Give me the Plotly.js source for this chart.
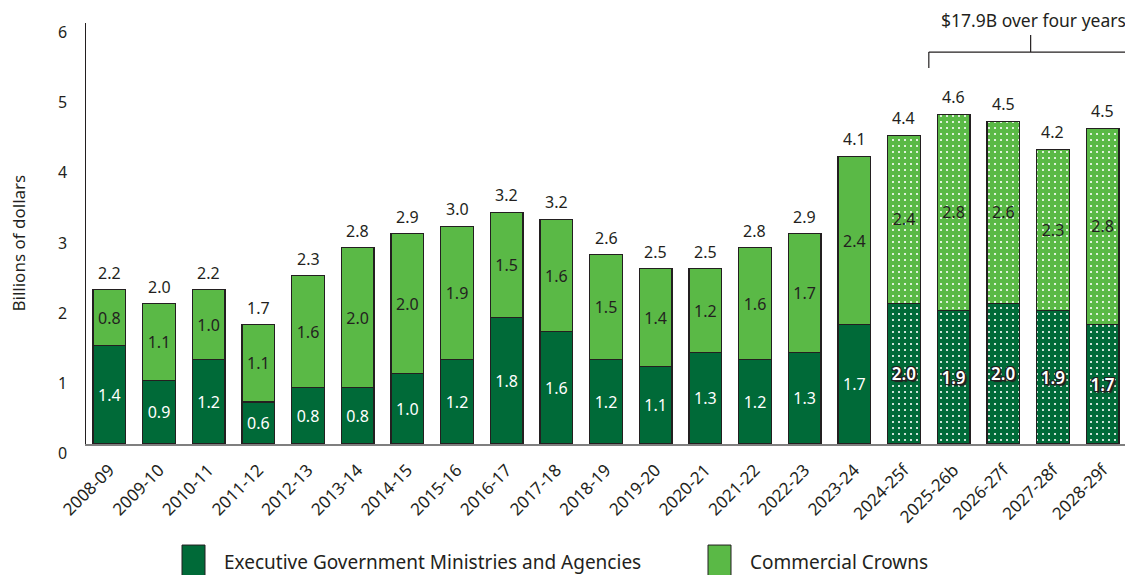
<!DOCTYPE html>
<html>
<head>
<meta charset="utf-8">
<script src="https://cdn.plot.ly/plotly-3.0.1.min.js"></script>
<style>html,body{margin:0;padding:0;background:#fff;}#chart{width:1125px;height:575px;}</style>
</head>
<body>
<div id="chart"></div>
<script>
// ---- data ----
var categories = ['2008-09','2009-10','2010-11','2011-12','2012-13','2013-14','2014-15','2015-16','2016-17','2017-18','2018-19','2019-20','2020-21','2021-22','2022-23','2023-24','2024-25f','2025-26b','2026-27f','2027-28f','2028-29f'];
var executiveGov = [1.4,0.9,1.2,0.6,0.8,0.8,1.0,1.2,1.8,1.6,1.2,1.1,1.3,1.2,1.3,1.7,2.0,1.9,2.0,1.9,1.7];
var commercialCrowns = [0.8,1.1,1.0,1.1,1.6,2.0,2.0,1.9,1.5,1.6,1.5,1.4,1.2,1.6,1.7,2.4,2.4,2.8,2.6,2.3,2.8];
var totalLabels = [2.2,2.0,2.2,1.7,2.3,2.8,2.9,3.0,3.2,3.2,2.6,2.5,2.5,2.8,2.9,4.1,4.4,4.6,4.5,4.2,4.5];
var seriesNames = ['Executive Government Ministries and Agencies','Commercial Crowns'];
var yTickValues = [0,1,2,3,4,5,6];
var yTitle = 'Billions of dollars';
var bracketText = '$17.9B over four years';
var forecastStart = 16; // index of first forecast year

// ---- styles ----
var DARK = '#006a38', LIGHT = '#5ab946', INK = '#231f20';
var FONT = 'Noto Sans, Open Sans, sans-serif';

var histIdx = [], fcIdx = [];
categories.forEach(function(c,i){ (i < forecastStart ? histIdx : fcIdx).push(i); });
function pick(arr, idx){ return idx.map(function(i){ return arr[i]; }); }

var lineStyle = {color: INK, width: 1.2};
var shadow = '-1px -1px 0 ' + INK + ', 1px -1px 0 ' + INK + ', -1px 1px 0 ' + INK + ', 1px 1px 0 ' + INK + ', 0 1px 0 ' + INK + ', 0 -1px 0 ' + INK + ', 1px 0 0 ' + INK + ', -1px 0 0 ' + INK + ', 2px 2px 1px ' + INK;

function dotPattern(bg){
  return {shape: '.', fgcolor: '#ffffff', bgcolor: bg, size: 6, solidity: 0.1, fillmode: 'replace'};
}

var common = {
  type: 'bar', texttemplate: '%{y:.1f}', textposition: 'inside', insidetextanchor: 'middle',
  textangle: 0, constraintext: 'none', hoverinfo: 'skip', showlegend: false
};

var traces = [
  Object.assign({}, common, {
    x: pick(categories, histIdx), y: pick(executiveGov, histIdx), name: seriesNames[0],
    marker: {color: DARK, line: lineStyle},
    textfont: {family: FONT, size: 16, color: '#ffffff'}
  }),
  Object.assign({}, common, {
    x: pick(categories, fcIdx), y: pick(executiveGov, fcIdx), name: seriesNames[0],
    marker: {color: DARK, line: lineStyle, pattern: dotPattern(DARK)},
    textfont: {family: FONT, size: 17, color: '#ffffff', weight: 600, shadow: shadow}
  }),
  Object.assign({}, common, {
    x: pick(categories, histIdx), y: pick(commercialCrowns, histIdx), name: seriesNames[1],
    marker: {color: LIGHT, line: lineStyle},
    textfont: {family: FONT, size: 16, color: INK}
  }),
  Object.assign({}, common, {
    x: pick(categories, fcIdx), y: pick(commercialCrowns, fcIdx), name: seriesNames[1],
    marker: {color: LIGHT, line: lineStyle, pattern: dotPattern(LIGHT)},
    textfont: {family: FONT, size: 16, color: INK}
  })
];

var annotations = [];
// totals above bars
categories.forEach(function(c,i){
  annotations.push({
    x: c, y: executiveGov[i] + commercialCrowns[i], xref: 'x', yref: 'y',
    text: totalLabels[i].toFixed(1), showarrow: false, yanchor: 'bottom', yshift: 4,
    font: {family: FONT, size: 16, color: INK}
  });
});
// y tick labels (slightly below tick positions as in reference)
yTickValues.forEach(function(v){
  annotations.push({
    x: 0, xref: 'paper', xanchor: 'right', xshift: -17, y: v, yref: 'y', yshift: -9,
    text: String(v), showarrow: false, font: {family: FONT, size: 16, color: INK}
  });
});
// y title
annotations.push({
  x: 0, xref: 'paper', xanchor: 'center', xshift: -68, y: 3, yref: 'y', yanchor: 'middle', yshift: -10, textangle: -90,
  text: yTitle, showarrow: false, font: {family: FONT, size: 17, color: INK}
});
// bracket text
annotations.push({
  x: 18.6, xref: 'x', y: 6, yref: 'y', yanchor: 'middle', yshift: 3,
  text: bracketText, showarrow: false, font: {family: FONT, size: 17.5, color: INK}
});
// legend
var legendX = [182, 708];
var legendColors = [DARK, LIGHT];
var shapes = [];
seriesNames.forEach(function(n,i){
  shapes.push({type: 'rect', xref: 'paper', yref: 'paper',
    x0: (legendX[i] - 86) / 1039, x1: (legendX[i] + 23 - 86) / 1039,
    y0: -0.375, y1: -0.24, fillcolor: legendColors[i], line: {color: INK, width: 1}});
  annotations.push({x: (legendX[i] + 41 - 86) / 1039, xref: 'paper', xanchor: 'left',
    y: -0.285, yref: 'paper', yanchor: 'middle', yshift: 2, borderpad: 0, text: n, showarrow: false,
    font: {family: FONT, size: 19, color: INK}});
});
// bracket lines
var bracketY = 5.586;
shapes.push({type: 'line', xref: 'x', yref: 'y', x0: 16.5, x1: 21, y0: bracketY, y1: bracketY, line: {color: INK, width: 1.2}});
shapes.push({type: 'line', xref: 'x', yref: 'y', x0: 16.5, x1: 16.5, y0: bracketY, y1: 5.36, line: {color: INK, width: 1.2}});
shapes.push({type: 'line', xref: 'x', yref: 'y', x0: 18.55, x1: 18.55, y0: bracketY, y1: 5.83, line: {color: INK, width: 1.2}});

var layout = {
  width: 1125, height: 575,
  margin: {l: 86, r: 0, t: 23, b: 131, pad: 0},
  paper_bgcolor: '#ffffff', plot_bgcolor: '#ffffff',
  barmode: 'stack', bargap: 0.34,
  showlegend: false,
  font: {family: FONT, color: INK},
  xaxis: {
    type: 'category', range: [-0.47, 20.45], tickangle: -45,
    tickfont: {family: FONT, size: 17, color: INK}, ticklabelstandoff: 8,
    showline: true, linecolor: '#7f7f7f', linewidth: 1.5, ticks: '', showgrid: false,
    zeroline: false, fixedrange: true
  },
  yaxis: {
    range: [0, 6], showticklabels: false, showgrid: false, zeroline: false,
    showline: true, linecolor: INK, linewidth: 1, ticks: '', fixedrange: true
  },
  annotations: annotations,
  shapes: shapes
};

Plotly.newPlot('chart', traces, layout, {displayModeBar: false, staticPlot: true});
</script>
</body>
</html>
